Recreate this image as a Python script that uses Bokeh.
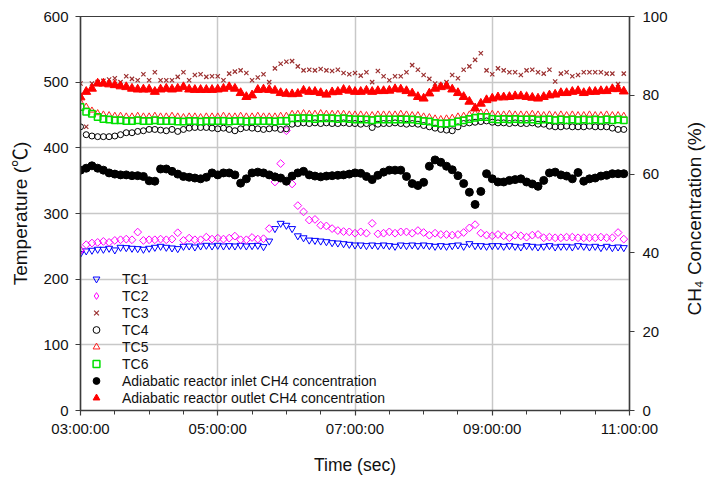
import math
from bokeh.plotting import figure
from bokeh.layouts import row
from bokeh.models import Range1d, LinearAxis, FixedTicker, Legend, LegendItem
from bokeh.embed import file_html
from bokeh.resources import INLINE

# ---------------- data ----------------
START_HOUR = 3.0
STEP_MIN = 5
N = 96
time_h = [START_HOUR + STEP_MIN * i / 60.0 for i in range(N)]

x_ticks = [3, 5, 7, 9, 11]
x_tick_labels = ["03:00:00", "05:00:00", "07:00:00", "09:00:00", "11:00:00"]
x_minor_ticks = [3.5, 4, 4.5, 5.5, 6, 6.5, 7.5, 8, 8.5, 9.5, 10, 10.5]
temp_ticks = [0, 100, 200, 300, 400, 500, 600]
ch4_ticks = [0, 20, 40, 60, 80, 100]

tc1 = [239, 243, 244, 245.5, 245.5, 247, 244.5, 248.5, 248, 247,
       246.5, 245.5, 247, 248.5, 250, 248.5, 247.5, 246.5, 250, 250.5,
       249, 250.5, 251.5, 250.5, 251.5, 250.5, 251, 250.5, 251.5, 250.5,
       251, 251.5, 249.5, 258, 277, 285, 282, 277, 266, 263,
       259.5, 259, 258, 257, 255.5, 255, 254, 253, 252, 252,
       251, 252, 251, 252, 251, 250, 252, 251, 252, 251,
       252, 251, 250, 251, 250, 251, 252, 250, 254, 251,
       251, 250, 251, 251, 250, 251, 250, 249, 251, 250,
       249, 250, 251, 249, 250, 250, 249, 251, 250, 249,
       250, 248, 250, 248, 249, 248]

tc2 = [244, 252.5, 255, 256, 257.5, 256, 259, 260, 261, 260,
       271.7, 259, 260, 260, 261, 260, 261, 270.7, 259, 262.5,
       260, 260, 264, 261, 262.5, 261, 262.5, 265.5, 260, 260,
       263.5, 261, 261.6, 277, 348, 376, 426, 345, 312, 302.5,
       290, 291, 282, 281, 277, 274, 272.5, 272, 270, 272,
       270, 285, 269, 270, 272, 270, 272, 272, 270, 274,
       271, 267, 270, 268, 268, 267, 268, 271, 278, 283,
       270, 267, 266, 268, 266, 263, 267, 266, 264, 267,
       268, 263, 264, 263, 263, 264, 264, 263, 263, 263,
       263, 264, 263, 263, 271, 261]

tc3 = [498, 432, 498, 500, 502, 504, 506, 500, 509, 505,
       503, 512, 503, 515, 503, 503, 503, 508, 515, 503,
       511, 512, 508, 509, 509, 503, 513, 516, 518, 514,
       503, 507, 512, 500, 521, 528, 531, 532, 524, 518,
       519, 518, 520, 518, 517, 519, 514, 512, 514, 510,
       515, 500, 517, 509, 503, 509, 509, 515, 526, 519,
       511, 505, 498, 495, 500, 511, 506, 519, 524, 534,
       544, 518, 512, 521, 518, 515, 515, 511, 518, 519,
       515, 513, 519, 501, 513, 515, 509, 511, 515, 515,
       515, 515, 513, 513, 497, 513]

tc4 = [432, 420, 418, 417, 417, 417, 418, 420, 423, 423,
       425, 426, 428, 428, 427, 426, 428, 425, 428, 430,
       431, 431, 431, 430, 429, 430, 428, 426, 429, 431,
       430, 429, 428, 429, 430, 428, 429, 436, 437, 438,
       437, 438, 437, 438, 437, 437, 438, 437, 437, 436,
       437, 431, 436, 437, 437, 438, 437, 436, 437, 436,
       434, 432, 430, 428, 427, 426, 432, 437, 438, 439,
       440, 441, 439, 438, 438, 437, 438, 437, 437, 438,
       436, 436, 433, 432, 432, 433, 432, 432, 432, 433,
       432, 432, 432, 430, 428, 428]

tc5 = [470, 463, 457, 453, 451, 450, 449, 449, 448, 448,
       449, 448, 448, 449, 448, 448, 449, 448, 447, 448,
       448, 447, 448, 448, 448, 449, 448, 448, 449, 448,
       448, 449, 448, 448, 448, 449, 449, 452, 452, 453,
       452, 452, 453, 452, 452, 452, 452, 451, 451, 451,
       450, 450, 451, 451, 451, 451, 452, 451, 450, 450,
       448, 447, 445, 444, 445, 446, 448, 449, 451, 453,
       454, 454, 452, 451, 451, 452, 451, 451, 451, 452,
       451, 450, 451, 450, 451, 450, 451, 450, 450, 451,
       450, 450, 451, 450, 450, 449]

tc6 = [462, 455, 452, 447, 444, 443, 442, 442, 441, 441,
       442, 441, 441, 442, 441, 441, 441, 440, 440, 441,
       441, 440, 441, 441, 441, 441, 440, 441, 441, 440,
       441, 441, 441, 441, 440, 441, 441, 445, 445, 445,
       445, 444, 445, 445, 445, 444, 445, 444, 443, 443,
       443, 442, 443, 443, 443, 443, 443, 443, 443, 442,
       441, 440, 438, 437, 437, 438, 440, 442, 444, 446,
       447, 447, 444, 443, 444, 443, 444, 443, 443, 443,
       442, 443, 443, 442, 443, 442, 443, 442, 443, 442,
       443, 442, 443, 442, 443, 442]

ch4_inlet = [61, 61.5, 62.1, 61.5, 61, 60.3, 60, 59.8, 59.8, 59.6,
             59.6, 59.4, 58.3, 58.2, 61.3, 61.3, 60.7, 60, 59.4, 59.2,
             59, 58.8, 59.2, 60.3, 59.8, 60.3, 60.3, 59.8, 57.7, 58.8,
             60.3, 60.5, 60.3, 59.8, 59.3, 59, 58.2, 59.5, 60.3, 60.7,
             59.8, 59.5, 59.3, 59.5, 59.6, 59.7, 59.8, 60, 60.3, 60.2,
             59.4, 58.6, 59.7, 60.5, 61, 61, 61, 59.4, 57.6, 57.1,
             57.9, 62, 63.6, 63, 62, 61.1, 59.6, 57.6, 55.4, 52.3,
             55.6, 60.1, 58.8, 58, 58, 58.4, 58.6, 58.8, 58, 57.5,
             56.9, 58.4, 60.3, 60.5, 59.8, 59.5, 58.8, 60.4, 58.2, 58.8,
             59, 59.5, 59.7, 60.1, 60.1, 60.1]

ch4_outlet = [79.5, 80.9, 81.7, 83, 83, 82.8, 82.6, 82.3, 82.1, 81.7,
              81.5, 81.5, 81.5, 80.9, 81.5, 81.7, 81.5, 81.7, 82.1, 81.5,
              81.4, 81.4, 81.4, 81.4, 81.5, 81.7, 82.1, 81.7, 80.6, 79.6,
              80, 81.4, 81.5, 81.4, 81.2, 80.6, 80.4, 80.3, 80.4, 81.2,
              80.9, 80.9, 80.6, 80.2, 80.8, 80.9, 81.4, 81.2, 80.9, 80.9,
              81.2, 80.9, 81.1, 81.1, 81.2, 81.6, 81.5, 81.1, 80.5, 79.6,
              79.2, 80.5, 81.7, 82.1, 82.3, 81.5, 80.6, 79.6, 78.4, 76.7,
              77.9, 78.8, 79.2, 79.5, 79.5, 79.6, 79.8, 79.8, 79.6, 79.4,
              79.2, 79.6, 80, 80.2, 80.6, 80.6, 80.9, 81.1, 80.6, 80.9,
              80.9, 81.1, 81.1, 81.6, 81.6, 81]

# ---------------- figure ----------------
FONT = "Liberation Sans"
LABEL_FONT = "Liberation Sans, Noto Sans CJK SC"
AX = "#3c3c3c"
TXT = "#111111"

p = figure(width=670, height=477, x_range=Range1d(3, 11), y_range=Range1d(0, 600),
           output_backend="svg", toolbar_location=None,
           min_border_left=80, min_border_right=40, min_border_top=16, min_border_bottom=65)
p.background_fill_color = "white"
p.border_fill_color = "white"
p.outline_line_color = AX
p.outline_line_width = 1.2
p.extra_y_ranges = {"ch4": Range1d(0, 100)}

# x axis
p.xaxis.ticker = FixedTicker(ticks=x_ticks, minor_ticks=x_minor_ticks)
p.xaxis.major_label_overrides = {t: s for t, s in zip(x_ticks, x_tick_labels)}
p.xaxis.axis_label = "Time (sec)"
# y axis
p.yaxis.ticker = FixedTicker(ticks=temp_ticks)
p.yaxis.axis_label = "Temperature (\u2103)"

for ax in (p.xaxis[0], p.yaxis[0]):
    ax.axis_line_color = AX
    ax.axis_line_width = 1.5
    ax.major_tick_line_color = AX
    ax.major_tick_line_width = 1.2
    ax.major_tick_out = 5
    ax.major_tick_in = 0
    ax.minor_tick_line_color = AX
    ax.minor_tick_out = 4
    ax.minor_tick_in = 0
    ax.major_label_text_font = FONT
    ax.major_label_text_font_size = "15px"
    ax.major_label_text_color = TXT
    ax.axis_label_text_font = LABEL_FONT
    ax.axis_label_text_font_style = "normal"
    ax.axis_label_text_color = TXT
p.xaxis.axis_label_text_font_size = "17.5px"
p.yaxis.axis_label_text_font_size = "19px"
p.yaxis.minor_tick_line_color = None
p.xaxis.major_label_standoff = 4
p.xaxis.axis_label_standoff = 15
p.yaxis.major_label_standoff = 7
p.yaxis.axis_label_standoff = 9

right = LinearAxis(y_range_name="ch4", ticker=FixedTicker(ticks=ch4_ticks))
right.axis_line_color = AX
right.axis_line_width = 1.5
right.major_tick_line_color = AX
right.major_tick_line_width = 1.2
right.major_tick_out = 5
right.major_tick_in = 0
right.minor_tick_line_color = None
right.major_label_text_font = FONT
right.major_label_text_font_size = "15px"
right.major_label_text_color = TXT
right.major_label_standoff = 8
p.add_layout(right, "right")

# grid
p.xgrid.ticker = FixedTicker(ticks=[5, 7, 9])
p.ygrid.ticker = FixedTicker(ticks=[100, 200, 300, 400, 500])
p.xgrid.grid_line_color = "#c8c8c8"
p.ygrid.grid_line_color = "#c8c8c8"
p.xgrid.grid_line_width = 1.5
p.ygrid.grid_line_width = 1.5

def xs(v):
    return time_h[:len(v)]

MAG = "#ff00ff"
r1 = p.scatter(xs(tc1), tc1, marker="inverted_triangle", size=7, line_color="#0000ff",
               fill_color=None, line_width=1)
r2 = p.scatter(xs(tc2), tc2, marker="square", angle=math.pi / 4, size=5.5, line_color=MAG,
               fill_color=None, line_width=1)
# legend swatch for TC2 (diamond drawn on its first point)
r2_leg = p.scatter(xs(tc2)[:1], tc2[:1], marker="diamond", size=9, line_color=MAG,
                   fill_color=None, line_width=1)
r3 = p.scatter(xs(tc3), tc3, marker="x", size=6, line_color="#9b3030", line_width=1.2)
r4 = p.scatter(xs(tc4), tc4, marker="circle", size=6, line_color="#000000",
               fill_color=None, line_width=1)
r5 = p.scatter(xs(tc5), tc5, marker="triangle", size=6, line_color="#ff2020",
               fill_color=None, line_width=1)
r6 = p.scatter(xs(tc6), tc6, marker="square", size=6.5, line_color="#00e000",
               fill_color=None, line_width=1.5)
r7 = p.scatter(xs(ch4_inlet), ch4_inlet, marker="circle", size=8, color="#000000",
               y_range_name="ch4")
r8 = p.scatter(xs(ch4_outlet), ch4_outlet, marker="triangle", size=9, color="#ff0000",
               y_range_name="ch4")

legend = Legend(items=[
    LegendItem(label="TC1", renderers=[r1]),
    LegendItem(label="TC2", renderers=[r2_leg]),
    LegendItem(label="TC3", renderers=[r3]),
    LegendItem(label="TC4", renderers=[r4]),
    LegendItem(label="TC5", renderers=[r5]),
    LegendItem(label="TC6", renderers=[r6]),
    LegendItem(label="Adiabatic reactor inlet CH4 concentration", renderers=[r7]),
    LegendItem(label="Adiabatic reactor outlet CH4 concentration", renderers=[r8]),
], location=(6, 4))
legend.background_fill_alpha = 0
legend.border_line_color = None
legend.padding = 0
legend.margin = 0
legend.spacing = 0
legend.glyph_width = 20
legend.glyph_height = 17
legend.label_height = 17
legend.label_standoff = 16
legend.label_text_font = FONT
legend.label_text_font_size = "14px"
legend.label_text_color = TXT
p.add_layout(legend)

# narrow companion panel carrying the right-hand axis title (reads bottom-to-top)
p2 = figure(width=36, height=477, x_range=Range1d(0, 1), y_range=Range1d(0, 1),
            output_backend="svg", toolbar_location=None,
            min_border_left=34, min_border_right=0, min_border_top=16, min_border_bottom=65)
p2.background_fill_color = "white"
p2.border_fill_color = "white"
p2.outline_line_color = None
p2.xaxis.visible = False
p2.xgrid.visible = False
p2.ygrid.visible = False
ya = p2.yaxis[0]
ya.ticker = FixedTicker(ticks=[0.5])
ya.major_label_overrides = {0.5: ""}
ya.axis_line_color = None
ya.major_tick_line_color = None
ya.minor_tick_line_color = None
ya.major_tick_out = 0
ya.major_tick_in = 0
ya.major_label_standoff = 0
ya.major_label_text_font_size = "1px"
ya.axis_label = "CH\u2084   Concentration (%)"
ya.axis_label_standoff = 0
ya.axis_label_text_font = FONT
ya.axis_label_text_font_size = "19px"
ya.axis_label_text_font_style = "normal"
ya.axis_label_text_color = TXT

layout = row(p, p2)
open("out.html", "w").write(file_html(layout, INLINE))
